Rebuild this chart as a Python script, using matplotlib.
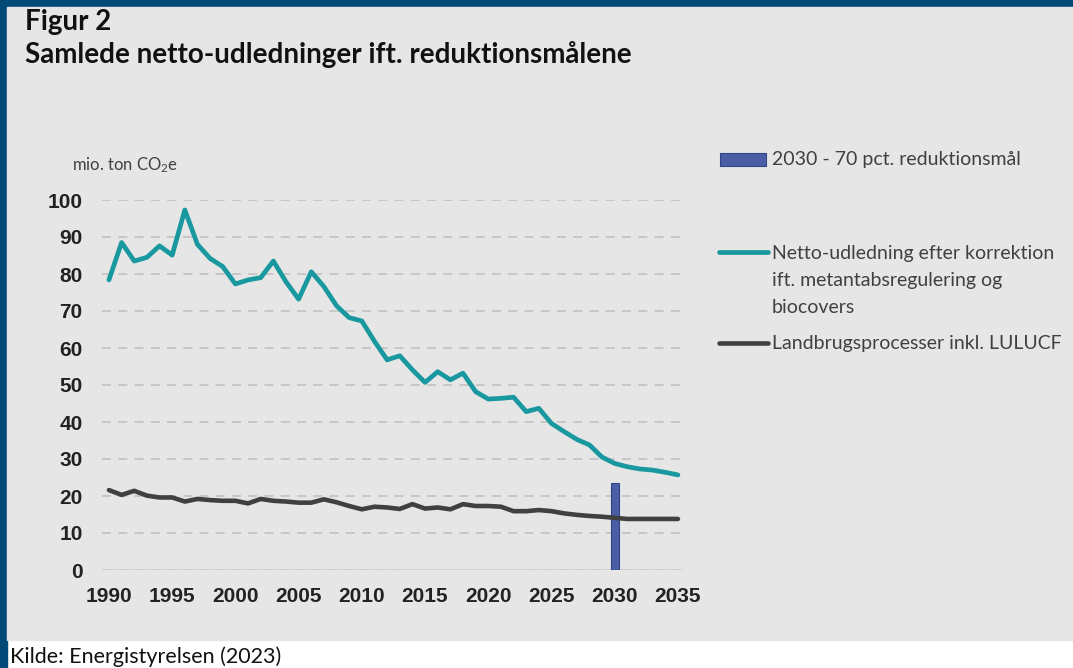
import matplotlib.pyplot as plt
from matplotlib.patches import Rectangle
from matplotlib.lines import Line2D

plt.rcParams['font.family'] = ['Lato', 'DejaVu Sans']
plt.rcParams['mathtext.default'] = 'regular'

# data
years = list(range(1990, 2036))
netto = [78.4, 88.5, 83.5, 84.5, 87.6, 85.1, 97.3, 88.0, 84.2, 82.0,
         77.3, 78.4, 79.0, 83.5, 77.9, 73.2, 80.6, 76.6, 71.4, 68.2,
         67.3, 61.8, 56.8, 57.9, 54.1, 50.7, 53.6, 51.4, 53.2, 48.2,
         46.2, 46.4, 46.7, 42.8, 43.7, 39.6, 37.4, 35.3, 33.8, 30.5,
         28.8, 27.9, 27.3, 27.0, 26.4, 25.7]
landbrug = [21.6, 20.3, 21.4, 20.1, 19.6, 19.6, 18.5, 19.2, 18.9, 18.7,
            18.7, 18.0, 19.2, 18.7, 18.5, 18.2, 18.2, 19.1, 18.3, 17.3,
            16.4, 17.1, 16.9, 16.5, 17.8, 16.6, 16.9, 16.4, 17.8, 17.3,
            17.3, 17.1, 15.9, 15.9, 16.2, 15.9, 15.3, 14.9, 14.6, 14.4,
            14.1, 13.8, 13.8, 13.8, 13.8, 13.8]
target_year = [2030]
target_value = [23.6]

labels = ['2030 - 70 pct. reduktionsmål',
          'Netto-udledning efter korrektion\nift. metantabsregulering og\nbiocovers',
          'Landbrugsprocesser inkl. LULUCF']

W, H = 1073, 668
fig = plt.figure(figsize=(W / 100, H / 100), dpi=100, facecolor='white')

def fx(px):
    return px / W

def fy(py):
    return 1 - py / H

# frame: blue border top and left, grey panel
blue = '#014a78'
for r in [Rectangle((0, fy(7)), 1, 7 / H),
          Rectangle((0, 0), fx(7), 1)]:
    r.set(transform=fig.transFigure, color=blue, zorder=-2)
    fig.patches.append(r)
panel = Rectangle((fx(7), fy(640)), 1 - fx(7), (640 - 7) / H,
                  transform=fig.transFigure, color='#e6e6e6', zorder=-2)
fig.patches.append(panel)

ax = fig.add_axes([fx(102), fy(570), fx(683 - 102), (570 - 200) / H])
ax.set_facecolor('none')
ax.set_zorder(2)

teal = '#1a98a0'
dark = '#404040'
ax.bar(target_year, target_value, width=0.63, color='#4a5ea8',
       edgecolor='#2f4387', linewidth=0.8, zorder=2)
ax.plot(years, landbrug, color=dark, lw=3.3, zorder=3, solid_capstyle='round',
        clip_on=False)
ax.plot(years, netto, color=teal, lw=3.4, zorder=4, solid_capstyle='round',
        clip_on=False)

ax.set_xlim(1989.45, 2035.4)
ax.set_ylim(0, 100)
ax.set_yticks(range(0, 101, 10))
ax.set_xticks(range(1990, 2036, 5))
ax.grid(axis='y', color='#c4c4c4', linestyle=(0, (5, 4)), lw=1.3, zorder=1)
ax.set_axisbelow(True)
ax.axhline(0, color='#cfcfcf', lw=1.2, zorder=1)
for s in ax.spines.values():
    s.set_visible(False)
ax.tick_params(length=0, labelsize=15, colors='#222222')
ax.tick_params(axis='y', pad=14)
ax.tick_params(axis='x', pad=12)
for lab in ax.get_xticklabels() + ax.get_yticklabels():
    lab.set_fontfamily('Liberation Sans')
    lab.set_fontweight('bold')

fig.text(fx(72), fy(165), 'mio. ton CO$_2$e', fontsize=12, color='#404040',
         va='center', ha='left')

# titles
fig.text(fx(25), fy(22), 'Figur 2', fontsize=20, fontweight='bold',
         color='#111111', va='center', ha='left')
fig.text(fx(25), fy(55), 'Samlede netto-udledninger ift. reduktionsmålene',
         fontsize=20, fontweight='bold', color='#111111', va='center', ha='left')

# legend
leg_patch = Rectangle((fx(720), fy(166)), fx(46), 13 / H,
                      transform=fig.transFigure, facecolor='#4a5ea8',
                      edgecolor='#2f4387', lw=0.8)
fig.patches.append(leg_patch)
fig.lines.append(Line2D([fx(719), fx(768)], [fy(252), fy(252)],
                        transform=fig.transFigure, color=teal, lw=3.4,
                        solid_capstyle='round'))
fig.lines.append(Line2D([fx(719), fx(768)], [fy(343), fy(343)],
                        transform=fig.transFigure, color=dark, lw=3.3,
                        solid_capstyle='round'))
fig.text(fx(772), fy(160), labels[0], fontsize=14, color='#404040',
         va='center', ha='left')
fig.text(fx(772), fy(245), labels[1], fontsize=14, color='#404040',
         va='top', ha='left', linespacing=1.7)
fig.text(fx(772), fy(343), labels[2], fontsize=14, color='#404040',
         va='center', ha='left')

fig.text(fx(10), fy(657), 'Kilde: Energistyrelsen (2023)', fontsize=15.5,
         color='#111111', va='center', ha='left')

fig.savefig('out.png', dpi=100, facecolor='white')
